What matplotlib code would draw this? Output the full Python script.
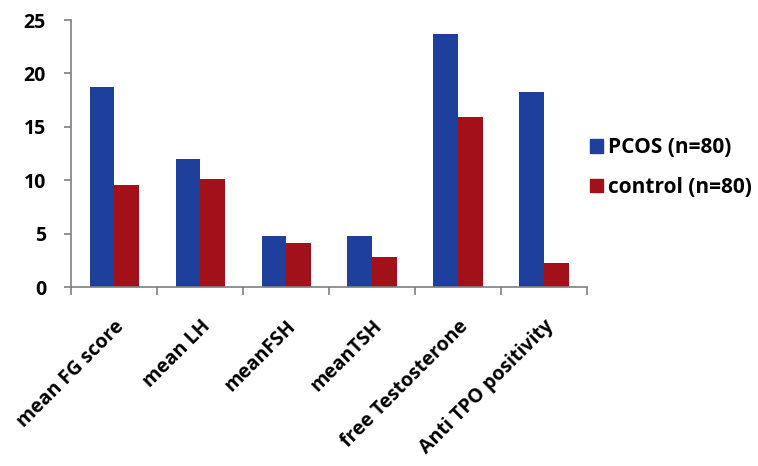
import numpy as np
import matplotlib.pyplot as plt
from matplotlib.patches import Patch

# --- Data ---
categories = ["mean FG score", "mean LH", "meanFSH", "meanTSH",
              "free Testosterone", "Anti TPO positivity"]
pcos = [18.75, 11.98, 4.78, 4.78, 23.66, 18.26]
control = [9.55, 10.08, 4.15, 2.84, 15.89, 2.22]
series_names = ["PCOS (n=80)", "control (n=80)"]

blue = "#1e3f9b"
red = "#a2101a"
font = "Open Sans"

fig = plt.figure(figsize=(7.58, 4.66), dpi=100)
ax = fig.add_axes([0.0937, 0.384, 0.6807, 0.573])

x = np.arange(len(categories))
w = 0.285
ax.bar(x - w / 2, pcos, w, color=blue, label=series_names[0])
ax.bar(x + w / 2, control, w, color=red, label=series_names[1])

ax.set_xlim(-0.5, len(categories) - 0.5)
ax.set_ylim(0, 25)
ax.set_yticks([0, 5, 10, 15, 20, 25])

# --- Axes styling ---
for side in ["top", "right"]:
    ax.spines[side].set_visible(False)
for side in ["left", "bottom"]:
    ax.spines[side].set_color("#7f7f7f")
    ax.spines[side].set_linewidth(1.2)

ax.set_xticks(x)
ax.set_xticklabels(categories, rotation=45, ha="right", rotation_mode="anchor",
                   fontsize=14, fontweight="bold", family=font)
ax.tick_params(axis="x", which="major", length=0, pad=21)
ax.set_xticks(np.arange(len(categories) + 1) - 0.5, minor=True)
ax.tick_params(axis="x", which="minor", length=6, width=1.2, color="#7f7f7f", direction="out")
ax.tick_params(axis="y", length=5, width=1.2, color="#7f7f7f", pad=13)
for lbl in ax.get_yticklabels():
    lbl.set_fontsize(14)
    lbl.set_fontweight("bold")
    lbl.set_family(font)

handles = [Patch(color=blue), Patch(color=red)]
fig.legend(handles, series_names, loc="center left", bbox_to_anchor=(0.778, 0.6405),
           frameon=False, borderpad=0, borderaxespad=0,
           handlelength=0.63, handleheight=0.63, handletextpad=0.25,
           labelspacing=0.9, prop={"family": font, "weight": "bold", "size": 15})

fig.savefig("out.png", dpi=100)
